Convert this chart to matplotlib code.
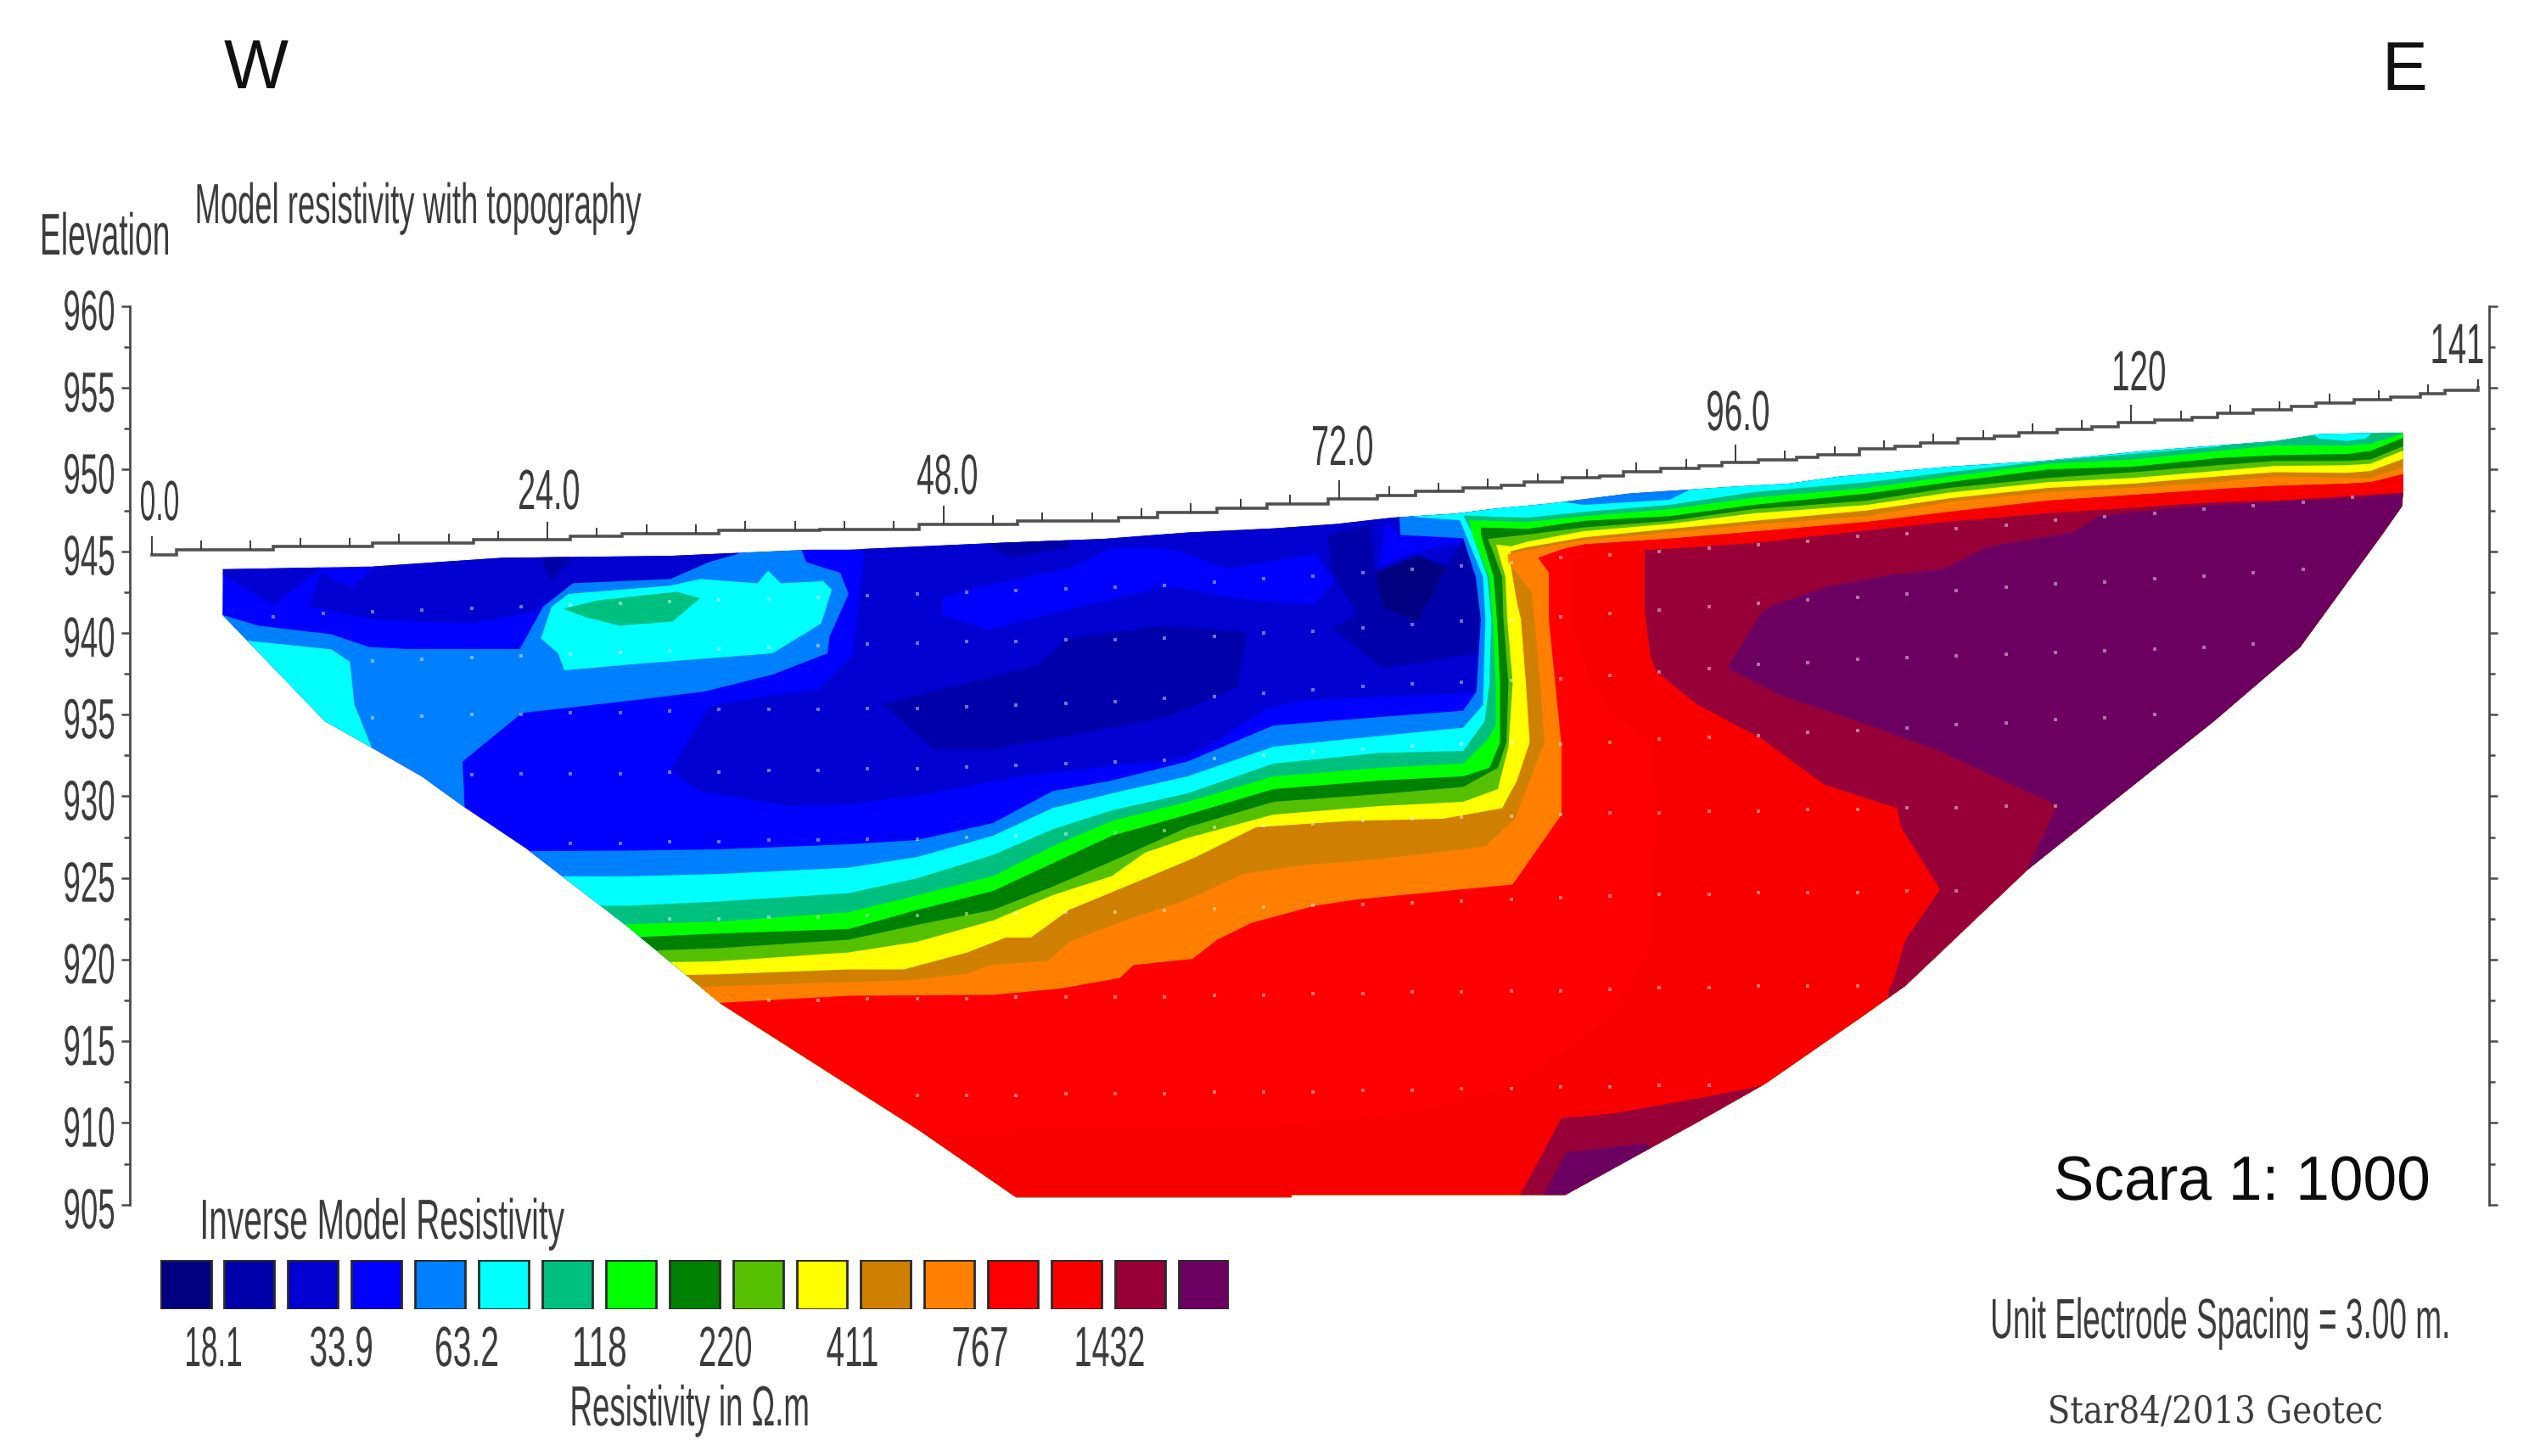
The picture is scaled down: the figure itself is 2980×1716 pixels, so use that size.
import numpy as np
import matplotlib
matplotlib.use("Agg")
import matplotlib.pyplot as plt
import matplotlib.text as mtext
from matplotlib.colors import to_rgba
from matplotlib.patches import Polygon
from matplotlib.textpath import TextPath
from matplotlib.transforms import Affine2D, Bbox

# ---------- legend / scale values ----------
CLASS_COLORS = ["#000080", "#0000aa", "#0000d0", "#0000ff", "#0080ff", "#00ffff", "#00c080",
                "#00ff00", "#008000", "#55c000", "#ffff00", "#d08000", "#ff8000", "#ff0000",
                "#f80000", "#980038", "#6c0060"]
LEGEND_VALUES = ["18.1", "33.9", "63.2", "118", "220", "411", "767", "1432"]
LEGEND_VALUE_PX = [252, 402, 550, 707, 855, 1004, 1155, 1308]
LEGEND_VALUE_W = [64, 72, 72, 60, 60, 59, 63, 79]
ELEV_TICKS = [905, 910, 915, 920, 925, 930, 935, 940, 945, 950, 955, 960]
ELEV_MINOR = [907.5, 912.5, 917.5, 922.5, 927.5, 932.5, 937.5, 942.5, 947.5, 952.5, 957.5]
DIST_LABELS = ["0.0", "24.0", "48.0", "72.0", "96.0", "120", "141"]
DIST_LABEL_CX = [188, 647, 1116, 1582, 2048, 2521, 2896]
DIST_LABEL_BASE = [613, 600, 582, 548, 507, 460, 428]
DIST_LABEL_W = [44, 70, 70, 70, 72, 60, 59]

# ---------- topography: start of each flat step (distance m) and its elevation (m) ----------
TOPO_X = [0, 1.5, 7.4, 13.4, 19.5, 25.4, 28.5, 34.4, 40.5, 46.5, 52.5, 58.6, 61, 64.6, 67.6, 71.3, 74.3, 76.6,
          79.5, 81.8, 83.2, 85.5, 87.8, 89.2, 91.5, 93.8, 95.2, 97.4, 99.7, 101, 103.5, 105.7, 107.2, 109.5,
          111.7, 113.2, 115.5, 117.6, 119.2, 121.4, 123.7, 125.2, 127.4, 129.7, 131.2, 133.5, 135.7, 137.5, 139, 141]
TOPO_E = [944.8, 945.1, 945.28, 945.5, 945.7, 945.9, 946.1, 946.3, 946.33, 946.67, 946.85, 947.06, 947.37, 947.66,
          947.89, 948.23, 948.41, 948.66, 948.88, 949.05, 949.23, 949.49, 949.63, 949.87, 950.09, 950.22, 950.44,
          950.61, 950.75, 950.9, 951.26, 951.43, 951.65, 951.88, 952.05, 952.26, 952.49, 952.64, 952.87, 953.04,
          953.21, 953.44, 953.65, 953.85, 954.08, 954.29, 954.45, 954.65, 954.85, 955.0]

# ---------- model section outline ----------
SECTION = [(4.32, 943.9), (13.45, 944.07), (21.2, 944.6), (31.45, 944.72), (39.94, 945.1), (42.25, 945.1),
           (51, 945.5), (57.7, 945.76), (62.8, 946.15), (68, 946.4), (71.8, 946.67), (75.2, 947.06),
           (79, 947.3), (81.35, 947.6), (84.8, 947.93), (89.6, 948.54), (96.1, 948.97), (99.2, 949.14),
           (102.26, 949.57), (108.95, 950.18), (114.6, 950.53), (120.8, 951.14), (128.7, 951.74),
           (131.4, 952.17), (135.2, 952.26), (136.47, 952.26), (136.47, 948.63), (136.4, 947.76),
           (135.2, 946.03), (133.3, 943.4), (130.2, 939.1), (125, 934.6), (119.7, 930.34), (113.7, 925.5),
           (106.3, 918.4), (103.8, 916.6), (97.8, 912.4), (93.7, 910.05), (85.7, 905.6), (69.1, 905.6),
           (69.1, 905.45), (52.4, 905.45), (46.6, 909.5), (34.5, 917.3), (28.75, 922.1), (22.7, 926.8),
           (19, 929.3), (16.4, 931.2), (13.3, 933), (10.5, 934.6), (4.3, 941.1)]

# ---------- resistivity class contours in the blue body ----------
C2_MAIN = [(33.77, 935.5), (37.37, 936.15), (40.45, 936.54), (42.51, 938.62), (43.16, 944.5), (43.16, 946),
           (75, 948), (82, 948), (82, 935.5), (80.57, 936.4), (79.5, 936.3), (70, 935.9), (67.6, 935.4),
           (64.4, 933.3), (62.3, 932.3), (55.1, 931.5), (52.5, 931.2), (47.4, 930.2), (42.25, 929.5),
           (38.65, 929.4), (33.25, 930.3), (31.45, 931.6)]
C2_LEFT_A = [(4.32, 945), (4.32, 943.55), (7.4, 941.74), (10.23, 943.94), (10.3, 945)]
C2_LEFT_B = [(9.59, 941.61), (10.23, 943.69), (12.16, 942.78), (13.45, 944.07), (13.45, 946), (35.6, 946),
             (35.57, 944.85), (33.77, 944.33), (31.45, 943.3), (25.54, 943), (23.74, 941.74), (23.48, 941.35),
             (19.36, 940.57), (13.45, 940.83)]
C3_PATCH = [(47.9, 942.13), (49.97, 942.78), (55.6, 943.94), (58.2, 945.2), (61.28, 945.2), (62.05, 945.1),
            (65.14, 943.94), (70.54, 944.85), (71.7, 943.17), (70.54, 941.74), (66.68, 942), (62.05, 942.78),
            (61.28, 942.78), (55.1, 941.35), (50.74, 940.18), (47.9, 941.09)]
C3_TOP = [(74.8, 946.8), (75.7, 946), (79.5, 945.9), (79.9, 945.2), (78.51, 945.4), (76.46, 944.85), (74.4, 944.07)]
C1_DEEP = [(44.31, 935.63), (53.57, 937.97), (55.62, 939.66), (61.28, 940.44), (66.43, 940.05), (65.8, 936.67),
           (61.54, 934.85), (55.37, 933.68), (51, 932.9), (47.4, 932.9)]
C1_EAST = [(71.3, 946), (73.9, 946.67), (74.14, 943.69), (74.66, 941.61), (76.7, 940.7), (78.51, 944.08),
           (79.5, 945.76), (80.57, 942.13), (80.3, 938.75), (74.66, 937.84), (71.57, 940.3), (73.1, 941.09),
           (71.57, 943.69)]
C1_SMALL_A = [(23.7, 945), (25.3, 945), (25.3, 944.33), (24.25, 943.17), (23.7, 944.33)]
C1_SMALL_B = [(51, 946), (55.6, 946), (55.6, 945.2), (52, 944.6), (51, 945.2)]
C0_CORE = [(74.14, 943.69), (76.7, 944.72), (78.51, 944.08), (76.7, 940.7), (74.66, 941.61)]
C4_WEST = [(4.32, 941.09), (6.5, 940.44), (10.88, 939.92), (13.19, 939.14), (15.5, 939.01), (22.32, 939.01),
           (23.74, 941.61), (25.54, 943.04), (31.45, 943.3), (33.77, 944.33), (35.57, 944.85), (35.82, 946),
           (39.04, 946), (39.68, 944.33), (41.74, 943.68), (42.25, 942.39), (41.1, 939.8), (40.97, 938.75),
           (37.63, 937.45), (33.51, 936.41), (29.39, 935.9), (22.45, 935.1), (18.85, 932.13), (18.98, 929.27),
           (10, 929), (0, 941)]
C5_WEST = [(3, 941.5), (5.73, 939.53), (10.88, 939), (12.03, 938.23), (12.29, 935.63), (13.32, 933.04),
           (0, 930), (0, 939.5)]
C5_BLOB = [(23.6, 939.66), (24.25, 941.61), (25.28, 942.39), (31.45, 942.9), (33.25, 943.3), (36.72, 943.04),
           (37.37, 943.81), (38.14, 943.04), (40.71, 943.17), (41.23, 942.64), (40.58, 940.57), (37.63, 938.75),
           (29.39, 938.1), (25.02, 937.71), (24.64, 938.75)]
C6_BLOB = [(24.95, 941.48), (27.08, 942), (31.84, 942.52), (33.25, 942.13), (31.58, 940.7), (28.36, 940.44),
           (26.31, 940.96)]

# ---------- transition band: top boundary of each class, west to east ----------
B4 = [(15, 926.6), (28.9, 926.67), (34.4, 926.75), (42.25, 927.06), (46.4, 927.32), (51, 928.36), (54.6, 930.31),
      (58.2, 930.96), (62.8, 932.13), (68, 934.33), (74.4, 934.85), (79.5, 935.24), (80.3, 936.4), (80.57, 940.83),
      (80.26, 943.43), (79.5, 945.8), (75.7, 946), (75.5, 949), (150, 955)]
B5 = [(15, 925.1), (28.9, 925.1), (34.4, 925.24), (42.25, 925.63), (46.4, 926.28), (51, 927.58), (54.6, 929.27),
      (58.2, 930.18), (62.8, 931.22), (68, 933.04), (74.4, 933.69), (79.5, 934.2), (80.7, 935.6), (80.85, 940.83),
      (80.7, 943.43), (79.3, 946.9), (76.5, 947.1), (76.5, 948.2), (84.5, 948.2), (86.8, 947.84), (92, 948.15),
      (93.5, 948.9), (150, 955)]
B6 = [(15, 923.3), (28.9, 923.3), (34.4, 923.56), (42.25, 924.07), (46.4, 924.98), (51, 926.41), (54.6, 927.97),
      (58.2, 929.14), (62.8, 930.18), (68, 932), (74.4, 932.65), (79.5, 932.78), (80.8, 934.6), (81.09, 936.93),
      (81.2, 940.83), (80.96, 943.43), (80, 946.2), (79.5, 947.2), (81.7, 947.1), (83.4, 947.06), (86.8, 947.41),
      (92, 947.84), (97.1, 948.62), (104, 949.23), (108.95, 949.84), (114.95, 950.53), (120.1, 950.96),
      (125.2, 951.4), (130.5, 952.4), (131.4, 951.9), (133.1, 951.75), (134.2, 951.9), (135, 952.6), (150, 955)]
B7 = [(15, 922.18), (28.9, 922.18), (34.4, 922.33), (42.25, 922.9), (46.4, 923.94), (51, 925.11), (54.6, 926.93),
      (58.2, 928.49), (62.8, 929.66), (68, 931.22), (74.4, 931.74), (79.5, 932), (81, 933.5), (81.47, 934.33),
      (81.47, 936.93), (81.3, 940.83), (81.09, 943.43), (80.06, 946), (79.89, 946.9), (83.4, 946.8), (86.8, 947.15),
      (92, 947.58), (97.1, 948.28), (104, 948.88), (108.95, 949.58), (114.95, 950.36), (120.1, 950.62),
      (125.2, 951.14), (128.7, 951.48), (133.1, 951.48), (134.5, 951.57), (136.6, 952.26), (150, 955)]
B8 = [(15, 921.35), (28.9, 921.35), (34.4, 921.6), (42.25, 921.87), (46.4, 923.04), (51, 924.2), (54.6, 925.89),
      (58.2, 927.58), (62.8, 928.88), (68, 930.44), (74.4, 930.96), (79.5, 931.22), (81.09, 931.74), (81.73, 933.3),
      (81.73, 936.93), (81.55, 940.83), (81.35, 943.43), (80.57, 946), (80.57, 946.46), (83.4, 946.37),
      (86.8, 946.86), (92, 947.15), (97.1, 947.84), (104, 948.54), (108.95, 949.23), (114.95, 950.01),
      (120.1, 950.18), (125.2, 950.7), (128.7, 950.88), (133.1, 950.96), (134.5, 951.14), (136.6, 952), (150, 955)]
B9 = [(15, 920.5), (28.9, 920.5), (34.4, 920.7), (42.25, 921.22), (46.4, 922.13), (51, 923.04), (54.6, 924.46),
      (58.2, 926.02), (62.8, 928.1), (68, 929.66), (74.4, 930.13), (79.5, 930.57), (81.6, 931.74), (82.12, 933.3),
      (82.24, 936.93), (81.94, 940.83), (81.86, 943.43), (81.3, 945), (81, 945.76), (83.4, 946.02), (86.8, 946.46),
      (92, 946.86), (97.1, 947.58), (104, 948.1), (108.95, 948.88), (114.95, 949.49), (120.1, 949.84),
      (125.2, 950.27), (128.7, 950.53), (133.1, 950.53), (134.5, 950.62), (136.6, 951.48), (150, 955)]
B10 = [(15, 919.8), (28.9, 919.8), (34.4, 919.9), (42.25, 920.44), (46.4, 921.09), (51, 922.39), (54.6, 923.94),
       (58.2, 925.11), (60.2, 926.54), (62.8, 927.45), (68, 928.88), (74.4, 929.4), (79.5, 929.66), (81.6, 930.44),
       (82.24, 933), (82.5, 936.93), (82.17, 940.83), (82.06, 943.43), (81.5, 945.4), (82.4, 945.3), (83.4, 945.59),
       (86.8, 946.23), (92, 946.68), (97.1, 947.32), (104, 947.84), (108.95, 948.59), (114.95, 949.23),
       (120.1, 949.49), (125.2, 949.92), (128.7, 950.22), (133.1, 950.27), (134.5, 950.36), (136.6, 951.22), (150, 955)]
B11 = [(15, 919), (28.9, 919), (34.4, 919.1), (42.25, 919.4), (45.6, 919.4), (49.45, 920.44), (51.77, 921.35),
       (53.3, 921.35), (55.6, 923.04), (60.25, 924.98), (63.3, 926.28), (66.94, 928.1), (72.6, 928.49), (78.26, 928.62),
       (81.86, 929.27), (82.76, 930.96), (83.53, 933.3), (83.3, 936.93), (83, 940.83), (82.76, 941.87), (82.37, 944.2),
       (82.37, 945), (83.4, 945.25), (86.8, 945.85), (92, 946.37), (97.1, 946.86), (104, 947.5), (108.95, 948.24),
       (114.95, 948.88), (120.1, 949.14), (125.2, 949.58), (128.7, 949.84), (133.1, 949.8), (134.5, 949.92),
       (136.6, 950.7), (150, 955)]
B12 = [(15, 918.2), (28.9, 918.2), (34.4, 918.36), (42.25, 918.62), (46.1, 918.75), (49.45, 919.14), (50.74, 919.66),
       (54.34, 919.92), (55.6, 921.09), (58.97, 922.39), (62.83, 923.69), (66.17, 925.24), (69.51, 925.76),
       (74.4, 926.15), (80.83, 926.93), (82.63, 928.62), (84.43, 933.3), (84.17, 936.93), (83.66, 942.5),
       (82.24, 944.33), (82.2, 944.8), (83.4, 945.07), (86.8, 945.68), (92, 946.16), (97.1, 946.63), (104, 947.15),
       (108.95, 948.02), (114.95, 948.62), (120.1, 948.88), (125.2, 949.23), (128.7, 949.58), (133.1, 949.49),
       (134.5, 949.49), (136.6, 950.18), (150, 955)]
B13_WEST = [(15, 917.3), (34.4, 917.35), (42.25, 917.79), (51, 917.84), (55.1, 918.23), (58.7, 918.88), (59.5, 919.66),
            (63.1, 920.05), (64.6, 921.22), (66.7, 922.26), (70.54, 923.3), (73.1, 923.69), (82.5, 924.6), (85.46, 928.88),
            (85.46, 933.04), (84.69, 940.83), (84.69, 943.69), (84.04, 944.6), (85.6, 945.16)]
RED_TOP_EAST = [(86.8, 945.42), (92, 945.77), (97.1, 946.2), (104, 946.8), (108.95, 947.41), (114.95, 948.1),
                (120.1, 948.45), (125.2, 948.8), (128.7, 949), (133.1, 949.14), (134.5, 949.23), (136.6, 949.75), (150, 955)]
BAND_FLOOR = [(150, 900), (15, 900)]

# ---------- resistive body on the east ----------
C14_BOUNDARY = [(150, 900), (40, 900), (40, 909.5), (46.6, 909.5), (67.97, 909.8), (75.7, 910.57), (82.63, 912.26),
                (88.55, 916.7), (90.86, 920.83), (91.25, 929.4), (90.73, 933.55), (88.55, 934.85), (87.26, 936.9),
                (85.97, 941.35), (85.97, 944.9)]
C15_EAST = [(90.5, 945.07), (92, 945.16), (97.1, 945.5), (104, 946.28), (108.95, 946.81), (114.95, 947.33),
            (120.1, 947.67), (125.2, 948.02), (128.7, 948.1), (133.1, 948.37), (136.6, 948.6), (145, 949), (145, 915),
            (105, 915), (105.3, 918.2), (105.56, 918.65), (106.3, 921.2), (108.4, 924.3), (106.04, 928.1), (105.8, 929.27),
            (101.4, 930.7), (97.55, 933.55), (93.7, 935.6), (91.25, 937.6), (90.86, 938.5), (90.5, 941.35)]
C16_EAST = [(98.06, 941.6), (101.4, 942.8), (105.3, 943.55), (108.7, 943.95), (111.2, 945.25), (116.5, 946.2),
            (118.05, 947.15), (123, 947.7), (128, 948), (133.1, 948.25), (136.6, 948.54), (150, 948.6), (150, 920),
            (113.4, 924.9), (115.5, 929.43), (108.3, 932.8), (102.7, 934.85), (98.8, 936.15), (95.5, 937.84), (97.55, 941.2)]
C15_FOOT = [(82.63, 905), (85.46, 910.3), (88.55, 910.57), (93.7, 911.5), (97.55, 912.26), (100, 905)]
C16_FOOT = [(84.04, 905), (85.72, 908.2), (90.6, 908.75), (95, 905)]

# ---------- datum points: first distance of each row, then elevation every 3 m ----------
ROW_STARTS = [7.4, 13.4, 13.4, 19.4, 25.4, 31.4, 37.4, 46.4]
ROW1 = [941.0, 941.2, 941.3, 941.4, 941.5, 941.6, 941.7, 941.8, 941.9, 942.0, 942.1, 942.2, 942.3, 942.4, 942.5, 942.6,
        942.7, 942.8, 942.9, 943.1, 943.3, 943.5, 943.7, 943.9, 944.1, 944.3, 944.6, 944.8, 945.0, 945.2, 945.4, 945.6,
        945.9, 946.1, 946.4, 946.6, 946.9, 947.1, 947.3, 947.6, 947.8, 948.0, 948.3]
ROW2 = [938.3, 938.4, 938.5, 938.6, 938.7, 938.8, 938.9, 939.0, 939.1, 939.2, 939.3, 939.4, 939.5, 939.5, 939.6, 939.6,
        939.7, 939.8, 940.0, 940.1, 940.3, 940.5, 940.7, 940.8, 941.0, 941.2, 941.4, 941.6, 941.8, 942.0, 942.2, 942.4,
        942.6, 942.8, 943.0, 943.1, 943.3, 943.5, 943.7, 943.9]
ROW3 = [934.8, 934.9, 935.0, 935.0, 935.1, 935.1, 935.2, 935.3, 935.3, 935.3, 935.4, 935.4, 935.5, 935.6, 935.7, 935.8,
        936.0, 936.1, 936.3, 936.5, 936.7, 936.9, 937.0, 937.1, 937.2, 937.4, 937.6, 937.8, 938.1, 938.2, 938.4, 938.5,
        938.6, 938.7, 938.8, 938.9, 939.0, 939.1, 939.3]
ROW4 = [931.3, 931.4, 931.4, 931.4, 931.5, 931.5, 931.6, 931.6, 931.7, 931.7, 931.8, 931.9, 932.0, 932.1, 932.2, 932.3,
        932.5, 932.7, 932.9, 933.1, 933.2, 933.3, 933.2, 933.3, 933.5, 933.6, 933.7, 933.9, 934.0, 934.2, 934.4, 934.5,
        934.7, 934.8, 935.0]
ROW5 = [927.1, 927.1, 927.2, 927.2, 927.3, 927.3, 927.4, 927.4, 927.5, 927.6, 927.7, 927.8, 927.9, 928.1, 928.2, 928.3,
        928.5, 928.6, 928.7, 928.8, 928.9, 929.0, 929.0, 929.1, 929.1, 929.2, 929.2, 929.3, 929.3, 929.4, 929.4]
ROW6 = [922.5, 922.5, 922.6, 922.6, 922.7, 922.7, 922.8, 922.8, 922.9, 922.9, 923.0, 923.1, 923.2, 923.3, 923.4, 923.5,
        923.6, 923.7, 923.8, 923.9, 924.0, 924.0, 924.1, 924.1, 924.1, 924.2, 924.2]
ROW7 = [917.5, 917.5, 917.6, 917.6, 917.6, 917.7, 917.7, 917.7, 917.7, 917.8, 917.8, 917.9, 917.9, 918.0, 918.0, 918.1,
        918.1, 918.2, 918.3, 918.3, 918.4, 918.4, 918.4]
ROW8 = [911.7, 911.7, 911.7, 911.8, 911.8, 911.8, 911.9, 911.9, 911.9, 912.0, 912.0, 912.1, 912.1, 912.2, 912.2, 912.3, 912.3]
ROWS = [ROW1, ROW2, ROW3, ROW4, ROW5, ROW6, ROW7, ROW8]

W, H, DPI = 2980, 1716, 100
INK = "#3c3c3c"


# ---------- horizontally condensed real text (the reference is a squeezed screenshot) ----------
_orig_draw = mtext.Text.draw
_orig_extent = mtext.Text.get_window_extent


def _squeezed_layout(t):
    fp = t.get_fontproperties()
    tp = TextPath((0, 0), t.get_text(), size=fp.get_size_in_points() * DPI / 72, prop=fp)
    bb = tp.get_extents()
    xs = t._xs
    x, y = t.get_transform().transform(t.get_unitless_position())
    ha = t.get_ha()
    dx = {"center": -(bb.x0 + bb.x1) / 2 * xs, "right": -bb.x1 * xs}.get(ha, -bb.x0 * xs)
    va = t.get_va()
    dy = -(bb.y0 + bb.y1) / 2 if va.startswith("center") else 0.0
    return tp, bb, xs, x + dx, y + dy + getattr(t, "_dy", 0.0)


def _draw(self, renderer):
    if getattr(self, "_xs", None) is None:
        return _orig_draw(self, renderer)
    if not self.get_visible() or not self.get_text():
        return
    tp, bb, xs, x, y = _squeezed_layout(self)
    gc = renderer.new_gc()
    gc.set_linewidth(0)
    gc.set_antialiased(True)
    renderer.draw_path(gc, tp, Affine2D().scale(xs, 1).translate(x, y), rgbFace=to_rgba(self.get_color()))
    gc.restore()
    self.stale = False


def _extent(self, renderer=None, dpi=None):
    if getattr(self, "_xs", None) is None or not self.get_text():
        return _orig_extent(self, renderer, dpi)
    tp, bb, xs, x, y = _squeezed_layout(self)
    return Bbox.from_extents(x + bb.x0 * xs, y + bb.y0, x + bb.x1 * xs, y + bb.y1)


mtext.Text.draw = _draw
mtext.Text.get_window_extent = _extent

fig = plt.figure(figsize=(W / DPI, H / DPI), dpi=DPI, facecolor="white")
ax = fig.add_axes([0, 0, 1, 1])
ax.set_xlim(-9.187, 144.1)
ax.set_ylim(889.61, 978.75)
ax.patch.set_visible(False)


def put(cx, base, s, size, width=None, family="Liberation Sans", color=INK):
    t = fig.text(cx / W, 1 - base / H, s, fontsize=size, family=family, ha="center", va="baseline", color=color)
    if width is not None:
        natural = TextPath((0, 0), s, size=size * DPI / 72, prop=t.get_fontproperties()).get_extents().width
        t._xs = width / natural
    return t


# ---------- axes ----------
for side in ("top", "bottom"):
    ax.spines[side].set_visible(False)
ax.spines["left"].set_position(("data", -1.32))
ax.spines["right"].set_position(("data", 141.7))
for side in ("left", "right"):
    ax.spines[side].set_bounds(905, 960)
    ax.spines[side].set_linewidth(2.0)
    ax.spines[side].set_color("#4a4a4a")
ax.set_xticks([])
ax.set_yticks(ELEV_TICKS, [str(v) for v in ELEV_TICKS])
ax.set_yticks(ELEV_MINOR, minor=True)
ax.tick_params(axis="y", which="major", left=True, right=True, length=7.5, width=1.8, color="#4a4a4a",
               pad=6, labelsize=48, labelcolor=INK, labelfontfamily="Liberation Sans")
ax.tick_params(axis="y", which="minor", left=True, right=True, length=5, width=1.8, color="#4a4a4a")
for lab in ax.get_yticklabels():
    lab._xs = 0.55
    lab._dy = -5

# ---------- section ----------
section = Polygon(SECTION, closed=True, facecolor=CLASS_COLORS[3], edgecolor="none", zorder=2)
ax.add_patch(section)


def region(points, cls, z=3):
    patch = Polygon(points, closed=True, facecolor=CLASS_COLORS[cls], edgecolor="none", zorder=z)
    ax.add_patch(patch)
    patch.set_clip_path(section)


for pts, cls in [(C2_MAIN, 2), (C2_LEFT_A, 2), (C2_LEFT_B, 2), (C3_PATCH, 3), (C3_TOP, 3),
                 (C1_DEEP, 1), (C1_EAST, 1), (C1_SMALL_A, 1), (C1_SMALL_B, 1), (C0_CORE, 0),
                 (C4_WEST, 4), (C5_WEST, 5), (C5_BLOB, 5), (C6_BLOB, 6)]:
    region(pts, cls)

for pts, cls in [(B4, 4), (B5, 5), (B6, 6), (B7, 7), (B8, 8), (B9, 9), (B10, 10), (B11, 11), (B12, 12)]:
    region(pts + BAND_FLOOR, cls)
region(B13_WEST + RED_TOP_EAST + BAND_FLOOR, 13)
region(C14_BOUNDARY + RED_TOP_EAST, 14)
region(C15_EAST, 15)
region(C16_EAST, 16)
region(C15_FOOT, 15)
region(C16_FOOT, 16)

# ---------- datum points ----------
for start, row in zip(ROW_STARTS, ROWS):
    xs_row = start + 3 * np.arange(len(row))
    dots = ax.scatter(xs_row, row, s=7, marker="s", color="white", alpha=0.45, linewidths=0, zorder=4)
    dots.set_clip_path(section)

# ---------- topography with electrode ticks ----------
ax.plot(TOPO_X, TOPO_E, color="#505050", lw=2.6, drawstyle="steps-post", solid_joinstyle="miter", zorder=5)
tick_x = np.arange(0, 142, 3)
tick_base = np.array(TOPO_E)[np.searchsorted(TOPO_X, tick_x, side="right") - 1]
tick_len = np.where(tick_x % 24 == 0, 1.1, 0.55)
ax.vlines(tick_x, tick_base, tick_base + tick_len, color="#3c3c3c", lw=1.4, zorder=5)

for lab, cx, base, w in zip(DIST_LABELS, DIST_LABEL_CX, DIST_LABEL_BASE, DIST_LABEL_W):
    put(cx, base, lab, 48, w)

# ---------- titles ----------
put(302, 104, "W", 58, None, color="#111111")
put(2833, 106, "E", 58, None, color="#111111")
put(124, 300, "Elevation", 50, 148)
put(494, 263, "Model resistivity with topography", 48, 523)
put(452, 1460, "Inverse Model Resistivity", 48, 426)
put(813, 1680, "Resistivity in Ω.m", 48, 277)
put(2642, 1414, "Scara 1: 1000", 53, 438, color="#0c0c0c")
put(2616, 1577, "Unit Electrode Spacing = 3.00 m.", 48, 536)
put(2611, 1677, "Star84/2013 Geotec", 32, 390, family="DejaVu Serif")

# ---------- colour legend ----------
leg = fig.add_axes([189.5 / W, 1 - 1543 / H, (1448 - 189.5) / W, 58 / H])
leg.bar(np.arange(len(CLASS_COLORS)), 1, width=0.787, bottom=0, color=CLASS_COLORS, edgecolor="#2a2a2a", linewidth=2.0)
leg.set_xlim(-0.3935, len(CLASS_COLORS) - 1 + 0.3935)
leg.set_ylim(0, 1)
leg.axis("off")
for v, cx, w in zip(LEGEND_VALUES, LEGEND_VALUE_PX, LEGEND_VALUE_W):
    put(cx, 1610, v, 48, w)

fig.savefig("out.png", dpi=DPI, facecolor="white")
